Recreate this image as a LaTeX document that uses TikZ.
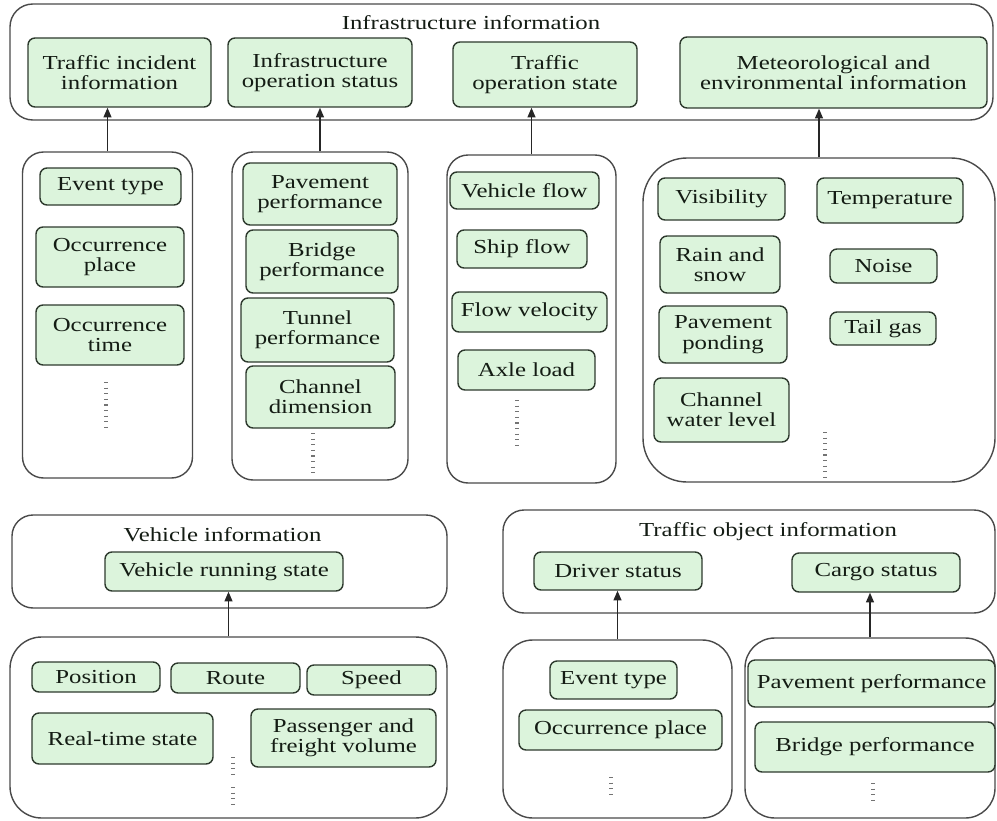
\documentclass[tikz,border=0pt]{standalone}
\usepackage{fontspec}
\setmainfont[FakeStretch=1.25]{Liberation Serif}
\usepackage{tikz}
\usetikzlibrary{arrows.meta,positioning}
\definecolor{itemfill}{HTML}{DCF4DC}
\definecolor{itemline}{HTML}{2E3A2E}
\definecolor{boxline}{HTML}{4A4A4A}
\definecolor{inktext}{HTML}{141C14}
\newcommand\Unit{0.02cm}
\tikzset{
  sz/.style 2 args={
    minimum width=#1*\Unit,
    minimum height=#2*\Unit
  },
  item/.style={
    draw=itemline,
    fill=itemfill,
    line width=0.8pt,
    rounded corners=4pt,
    align=center,
    inner sep=0pt,
    text=inktext
  },
  group/.style={
    draw=boxline,
    line width=0.8pt,
    rounded corners=12pt,
    inner sep=0pt
  },
  head/.style={
    text=inktext,
    inner sep=0pt
  },
  arr/.style={
    -{Triangle[length=5.5pt,width=4.5pt]},
    line width=0.8pt,
    draw=black!85
  },
  dots/.style={
    draw=black!55,
    line width=2pt,
    dash pattern=on 0.6pt off 2.6pt
  }
}
\begin{document}
\begin{tikzpicture}[x=\Unit, y=-\Unit, font=\fontsize{11.3}{11.6}\selectfont]
    \useasboundingbox (0,0) rectangle (997,821);

    % infrastructure information
    \node[group, sz={983}{116}, rounded corners=13pt] (infra) at (501.5,62) {};
    \node[head] (infraT) at (471,23) {Infrastructure information};
    \node[item, sz={183}{69}] (incid) at (119.5,72.5) {Traffic incident\\information};
    \node[item, sz={184}{69}] (opstat) at (320,72.5) {Infrastructure\\operation status};
    \node[item, sz={184}{65}] (trstate) at (545,74.5) {Traffic\\operation state};
    \node[item, sz={307}{71}] (meteo) at (833.5,72.5) {Meteorological and\\environmental information};

    \node[group, sz={170}{326}] (boxA) at (107.5,315) {};
    \node[group, sz={176}{328}] (boxB) at (320,316) {};
    \node[group, sz={169}{328}] (boxC) at (531.5,319) {};
    \node[group, sz={352}{324}, rounded corners=25pt] (boxD) at (819,320) {};

    \node[item, sz={141}{37}] (evtype) at (110.5,186.5) {Event type};
    \node[item, sz={148}{60}] (occplace) at (110,257) {Occurrence\\place};
    \node[item, sz={148}{60}] (occtime) at (110,335) {Occurrence\\time};
    \draw[dots] (106,382) -- (106,428);

    \node[item, sz={154}{62}] (pavperf) at (320,194) {Pavement\\performance};
    \node[item, sz={152}{63}] (brperf) at (322,261.5) {Bridge\\performance};
    \node[item, sz={153}{64}] (tunperf) at (317.5,330) {Tunnel\\performance};
    \node[item, sz={149}{62}] (chdim) at (320.5,397) {Channel\\dimension};
    \draw[dots] (313,433) -- (313,477);

    \node[item, sz={149}{37}] (vflow) at (524.5,190.5) {Vehicle flow};
    \node[item, sz={130}{38}] (sflow) at (522,249) {Ship flow};
    \node[item, sz={155}{40}] (fvel) at (529.5,312) {Flow velocity};
    \node[item, sz={137}{40}] (axle) at (526.5,370) {Axle load};
    \draw[dots] (517,400) -- (517,447);

    \node[item, sz={127}{42}] (visib) at (721.5,199) {Visibility};
    \node[item, sz={146}{45}] (temp) at (890,200.5) {Temperature};
    \node[item, sz={120}{57}] (rain) at (720,264.5) {Rain and\\snow};
    \node[item, sz={107}{34}] (noise) at (883.5,266) {Noise};
    \node[item, sz={128}{57}] (ponding) at (723,334.5) {Pavement\\ponding};
    \node[item, sz={106}{33}] (tailgas) at (883,328.5) {Tail gas};
    \node[item, sz={135}{64}] (waterlvl) at (721.5,410) {Channel\\water level};
    \draw[dots] (825,432) -- (825,478);

    \draw[arr] (boxA.north) -- (boxA.north |- incid.south);
    \draw[arr] (boxB.north) -- (boxB.north |- opstat.south);
    \draw[arr] (boxC.north) -- (boxC.north |- trstate.south);
    \draw[arr] (boxD.north) -- (boxD.north |- meteo.south);

    % vehicle information
    \node[group, sz={435}{93}] (vehinfo) at (229.5,561.5) {};
    \node[head] (vehinfoT) at (222.5,535) {Vehicle information};
    \node[item, sz={238}{39}] (vrun) at (224,571.5) {Vehicle running state};
    \node[group, sz={437}{181}, rounded corners=18pt] (boxE) at (228.5,727.5) {};
    \node[item, sz={128}{30}] (pos) at (96,677) {Position};
    \node[item, sz={129}{30}] (route) at (235.5,678) {Route};
    \node[item, sz={129}{30}] (speed) at (371.5,680) {Speed};
    \node[item, sz={181}{51}] (rtstate) at (122.5,738.5) {Real-time state};
    \node[item, sz={185}{58}] (volume) at (343.5,738) {Passenger and\\freight volume};
    \draw[dots] (233,757) -- (233,778);
    \draw[dots] (233,787) -- (233,809);
    \draw[arr] (boxE.north) -- (boxE.north |- vrun.south);

    % traffic object information
    \node[group, sz={492}{103}] (objinfo) at (749,561.5) {};
    \node[head] (objinfoT) at (768,532) {Traffic object information};
    \node[item, sz={168}{38}] (driver) at (618,571) {Driver status};
    \node[item, sz={168}{39}] (cargo) at (876,572.5) {Cargo status};
    \node[group, sz={229}{178}, rounded corners=17pt] (boxF) at (617.5,729) {};
    \node[group, sz={250}{180}, rounded corners=17pt] (boxG) at (870,728) {};
    \node[item, sz={127}{38}] (evtype2) at (613.5,680) {Event type};
    \node[item, sz={203}{40}] (occplace2) at (620.5,730) {Occurrence place};
    \draw[dots] (611,777) -- (611,799);
    \node[item, sz={247}{47}] (pavperf2) at (871.5,683.5) {Pavement performance};
    \node[item, sz={240}{50}] (brperf2) at (875,747) {Bridge performance};
    \draw[dots] (873,783) -- (873,804);
    \draw[arr] (boxF.north) -- (boxF.north |- driver.south);
    \draw[arr] (boxG.north) -- (boxG.north |- cargo.south);
\end{tikzpicture}
\end{document}
